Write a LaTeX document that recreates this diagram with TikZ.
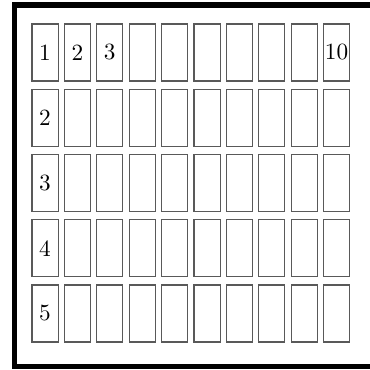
\documentclass[tikz,border=0pt]{standalone}
\usepackage{tikz}
\usetikzlibrary{positioning}

\begin{document}
\begin{tikzpicture}[
  x=0.43pt, y=-0.43pt,
  cell/.style={draw=black!65, line width=0.45pt, minimum width=11.2pt, minimum height=24.5pt, inner sep=0pt},
  num/.style={inner sep=0pt},
  frame/.style={line width=2.2pt}]
\useasboundingbox (0,0) rectangle (370,370);
\clip (0,0) rectangle (370,370);
% outer frame, open to the right
\draw[frame] (14.5,5) rectangle (400,366.5);
% grid of cells
\foreach \r in {1,...,5}
  \foreach \c in {1,...,10}
    \node[cell] (c\r-\c) at ({45+32.4*(\c-1)},{52.5+65.25*(\r-1)}) {};
% numbers
\node[num] (n11) at (c1-1) {1};
\node[num] (n12) at (c1-2) {2};
\node[num] (n13) at (c1-3) {3};
\node[num] (n110) at (c1-10) {10};
\node[num] (n21) at (c2-1) {2};
\node[num] (n31) at (c3-1) {3};
\node[num] (n41) at (c4-1) {4};
\node[num] (n51) at (c5-1) {5};
\end{tikzpicture}
\end{document}
